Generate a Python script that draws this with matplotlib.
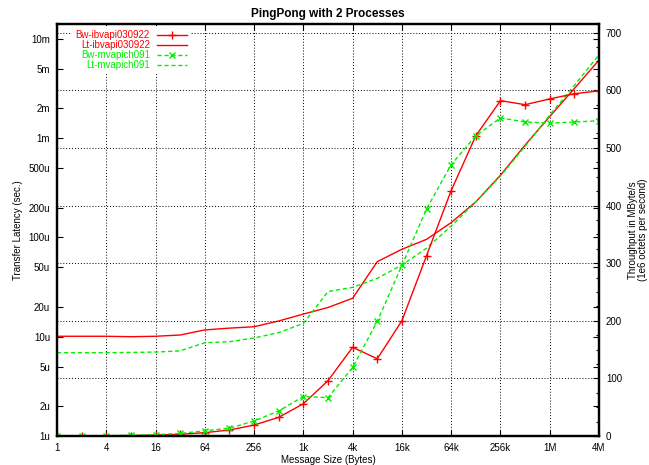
import matplotlib
matplotlib.use("Agg")
import matplotlib.pyplot as plt
from matplotlib.ticker import FixedLocator, FixedFormatter, MultipleLocator, NullLocator

plt.rcParams['font.family'] = ['Liberation Sans', 'DejaVu Sans']

# message sizes 1 .. 4M bytes
sizes = [2 ** k for k in range(23)]

# throughput, MB/s (right axis)
bw_ib = [0.1, 0.2, 0.4, 0.8, 1.5, 3.0, 5.8, 10.4, 19, 32.4, 56, 96, 154, 134,
         200, 313, 426, 521, 582, 575, 585, 594, 599]
bw_mv = [0.15, 0.3, 0.6, 1.2, 2.3, 4.5, 9, 13.5, 26, 43.5, 68.5, 66.5, 119, 199,
         296, 394, 471, 521, 552, 545, 543, 545, 547]

# latency, seconds (left axis)
lt_ib = [10.1e-6, 10.1e-6, 10.1e-6, 10.0e-6, 10.1e-6, 10.4e-6, 11.7e-6, 12.2e-6,
         12.6e-6, 14.4e-6, 16.9e-6, 19.7e-6, 24.4e-6, 57e-6, 76e-6, 95.6e-6,
         141e-6, 228e-6, 423e-6, 851e-6, 1.65e-3, 3.16e-3, 6.1e-3]
lt_mv = [6.9e-6, 6.9e-6, 6.9e-6, 6.95e-6, 7.0e-6, 7.2e-6, 8.7e-6, 8.9e-6,
         9.7e-6, 11.0e-6, 13.6e-6, 28.5e-6, 31.4e-6, 38.7e-6, 52.7e-6, 78e-6,
         130e-6, 228e-6, 414e-6, 828e-6, 1.7e-3, 3.4e-3, 6.9e-3]

x_ticks = [1, 4, 16, 64, 256, 1024, 4096, 16384, 65536, 262144, 1048576, 4194304]
x_labels = ['1', '4', '16', '64', '256', '1k', '4k', '16k', '64k', '256k', '1M', '4M']
y_ticks = [1e-6, 2e-6, 5e-6, 1e-5, 2e-5, 5e-5, 1e-4, 2e-4, 5e-4, 1e-3, 2e-3, 5e-3, 1e-2]
y_labels = ['1u', '2u', '5u', '10u', '20u', '50u', '100u', '200u', '500u',
            '1m', '2m', '5m', '10m']

red = '#ff0000'
green = '#00ee00'

fig = plt.figure(figsize=(6.49, 4.65), dpi=100)
ax1 = fig.add_axes([57 / 649, 1 - 436 / 465, 542 / 649, 412 / 465])
ax2 = ax1.twinx()

ax1.set_xscale('log', base=2)
ax1.set_yscale('log')
ax1.set_xlim(1, 4194304)
ax1.set_ylim(1e-6, 0.0141)
ax2.set_ylim(0, 715)

l1, = ax2.plot(sizes, bw_ib, color=red, lw=1, marker='+', ms=6, mew=1,
               label='Bw-ibvapi030922')
l2, = ax1.plot(sizes, lt_ib, color=red, lw=1, label='Lt-ibvapi030922')
l3, = ax2.plot(sizes, bw_mv, color=green, lw=1, ls=(0, (3, 2)), marker='x',
               ms=5, mew=1, label='Bw-mvapich091')
l4, = ax1.plot(sizes, lt_mv, color=green, lw=1, ls=(0, (3, 2)),
               label='Lt-mvapich091')

ax1.xaxis.set_major_locator(FixedLocator(x_ticks))
ax1.xaxis.set_major_formatter(FixedFormatter(x_labels))
ax1.xaxis.set_minor_locator(NullLocator())
ax1.yaxis.set_major_locator(FixedLocator(y_ticks))
ax1.yaxis.set_major_formatter(FixedFormatter(y_labels))
ax1.yaxis.set_minor_locator(NullLocator())
ax2.yaxis.set_major_locator(MultipleLocator(100))
ax2.yaxis.set_minor_locator(MultipleLocator(25))

ax1.tick_params(axis='both', which='major', direction='in', length=4.5,
                width=0.8, labelsize=7, top=True, right=True, pad=5)
ax2.tick_params(axis='y', which='major', direction='in', length=4.5,
                width=0.8, labelsize=7, pad=5)
ax2.tick_params(axis='y', which='minor', direction='in', length=2.5, width=0.8)

ax1.grid(True, axis='x', which='major', color='black', ls=(0, (1, 2)), lw=0.7)
ax2.grid(True, axis='y', which='major', color='black', ls=(0, (1, 2)), lw=0.7)

for ax in (ax1, ax2):
    for s in ax.spines.values():
        s.set_linewidth(1.6)

ax1.set_title('PingPong with 2 Processes', fontsize=8.5, fontweight='bold', pad=5)
ax1.set_xlabel('Message Size (Bytes)', fontsize=7, labelpad=1.5)
ax1.set_ylabel('Transfer Latency (sec.)', fontsize=7, labelpad=4)
ax2.set_ylabel('Throughput in MByte/s\n(1e6 octets per second)', fontsize=7,
               labelpad=4, linespacing=1.0)

leg = ax2.legend(handles=[l1, l2, l3, l4], loc='upper left',
                 bbox_to_anchor=(0.027, 0.995), markerfirst=False,
                 fontsize=7, labelspacing=0.0, handlelength=3.1,
                 handletextpad=0.7, borderpad=0.4, borderaxespad=0,
                 frameon=True, fancybox=False, framealpha=1,
                 facecolor='white', edgecolor='none')
for t, c in zip(leg.get_texts(), [red, red, green, green]):
    t.set_color(c)

fig.savefig('out.png', dpi=100)
